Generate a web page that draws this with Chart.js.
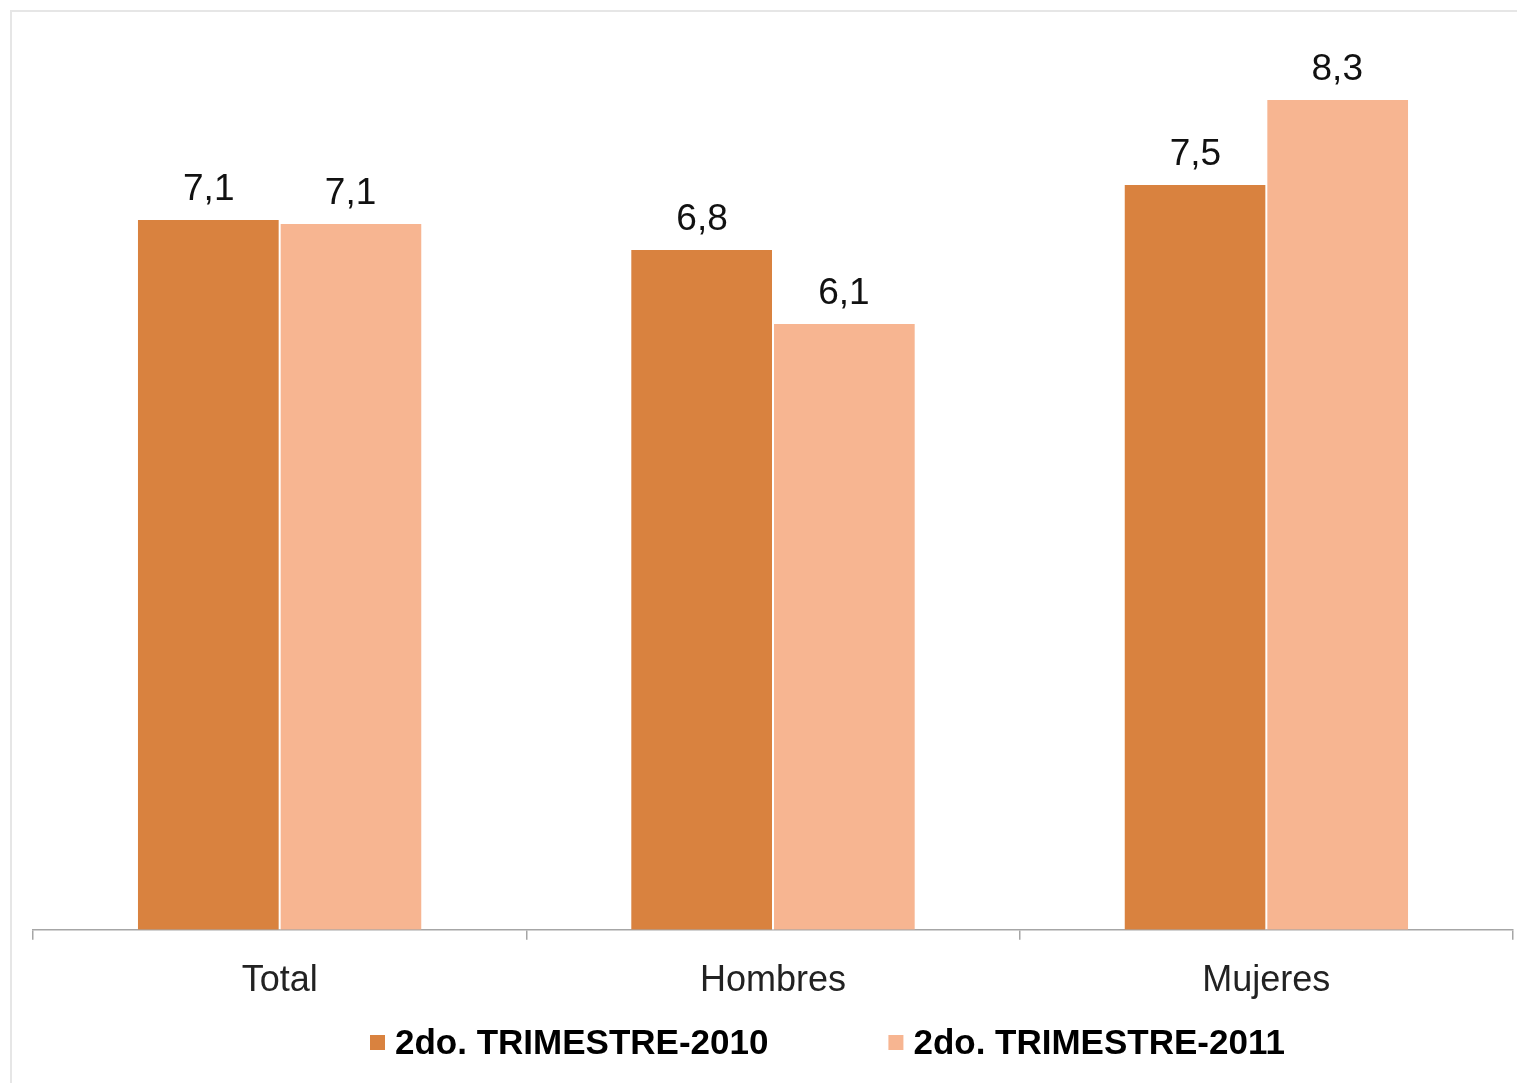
<!DOCTYPE html>
<html>
<head>
<meta charset="utf-8">
<script src="https://cdn.jsdelivr.net/npm/chart.js@4/dist/chart.umd.min.js"></script>
<style>
    html, body { margin: 0; padding: 0; background: #fff; }
    #wrap { position: relative; width: 1517px; height: 1083px; overflow: hidden; }
    #frame {
        position: absolute; left: 10px; top: 10px; width: 1520px; height: 1100px;
        border: 2px solid #e6e6e6; box-sizing: border-box;
    }
    canvas { position: absolute; left: 0; top: 0; }
</style>
</head>
<body>
<div id="wrap">
    <div id="frame"></div>
    <canvas id="barChart" width="1517" height="1083"></canvas>
</div>
<script>
// data
const categories = ["Total", "Hombres", "Mujeres"];
const seriesNames = ["2do. TRIMESTRE-2010", "2do. TRIMESTRE-2011"];
const values2010 = [7.1, 6.8, 7.45];
const values2011 = [7.06, 6.06, 8.3];
const valueLabels2010 = ["7,1", "6,8", "7,5"];
const valueLabels2011 = ["7,1", "6,1", "8,3"];

const colors = ["#D9823F", "#F7B591"];

// value labels above each bar
const barLabels = {
    id: "barLabels",
    afterDatasetsDraw(chart) {
        const ctx = chart.ctx;
        ctx.save();
        ctx.font = "37px 'Liberation Sans', Arial, sans-serif";
        ctx.fillStyle = "#111";
        ctx.textAlign = "center";
        ctx.textBaseline = "bottom";
        chart.data.datasets.forEach((ds, i) => {
            chart.getDatasetMeta(i).data.forEach((bar, j) => {
                ctx.fillText(ds.valueLabels[j], bar.x, bar.y - 12);
            });
        });
        ctx.restore();
    },
};

// legend drawn on the canvas so the item spacing can match
const bottomLegend = {
    id: "bottomLegend",
    afterDraw(chart) {
        const ctx = chart.ctx;
        const y = 1043;
        let x = 370;
        ctx.save();
        ctx.font = "bold 35px 'Liberation Sans', Arial, sans-serif";
        ctx.textBaseline = "middle";
        chart.data.datasets.forEach((ds) => {
            ctx.fillStyle = ds.backgroundColor;
            ctx.fillRect(x, y - 8, 15, 15);
            ctx.fillStyle = "#000";
            ctx.fillText(ds.label, x + 25, y + 1);
            x += 25 + ctx.measureText(ds.label).width + 120;
        });
        ctx.restore();
    },
};

new Chart(document.getElementById("barChart"), {
    type: "bar",
    data: {
        labels: categories,
        datasets: [
            {
                label: seriesNames[0],
                data: values2010,
                valueLabels: valueLabels2010,
                backgroundColor: colors[0],
                borderColor: "#ffffff",
                borderWidth: { right: 1 },
                borderSkipped: false,
                categoryPercentage: 0.575,
                barPercentage: 1,
            },
            {
                label: seriesNames[1],
                data: values2011,
                valueLabels: valueLabels2011,
                backgroundColor: colors[1],
                borderColor: "#ffffff",
                borderWidth: { left: 1 },
                borderSkipped: false,
                categoryPercentage: 0.575,
                barPercentage: 1,
            },
        ],
    },
    options: {
        responsive: false,
        animation: false,
        layout: { padding: { top: 30, left: 33, right: 4, bottom: 60 } },
        plugins: {
            legend: { display: false },
            tooltip: { enabled: false },
        },
        scales: {
            x: {
                grid: {
                    offset: true,
                    drawOnChartArea: false,
                    drawTicks: true,
                    tickLength: 10,
                    color: "#a6a6a6",
                    lineWidth: 1.5,
                },
                border: { color: "#a6a6a6", width: 1.5 },
                ticks: {
                    padding: 20,
                    color: "#222",
                    font: { size: 36, family: "'Liberation Sans', Arial, sans-serif" },
                },
            },
            y: {
                display: false,
                min: 0,
                max: 9,
            },
        },
    },
    plugins: [barLabels, bottomLegend],
});
</script>
</body>
</html>
